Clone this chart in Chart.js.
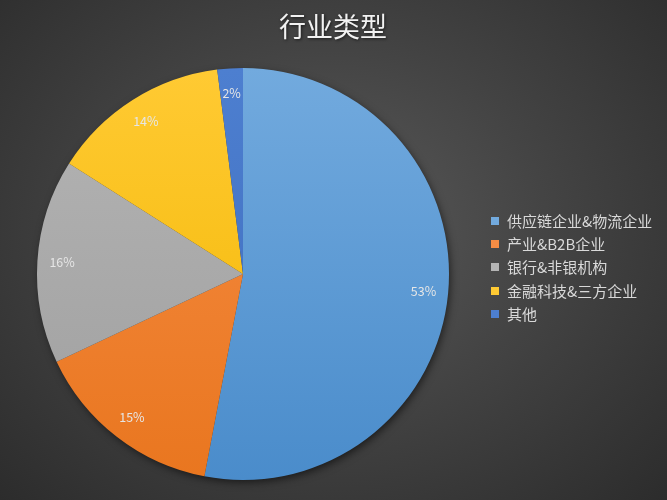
<!DOCTYPE html>
<html>
<head>
<meta charset="utf-8">
<script src="https://cdn.jsdelivr.net/npm/chart.js@4.4.1/dist/chart.umd.min.js"></script>
<style>
  html, body { margin: 0; padding: 0; }
  body { width: 667px; height: 500px; background: radial-gradient(ellipse at 50% 45%, #595959 0%, #444444 45%, #2c2c2c 100%); }
  #wrap { position: relative; width: 667px; height: 500px; }
</style>
</head>
<body>
<div id="wrap"><canvas id="c" width="667" height="500"></canvas></div>
<script>
const titleText = '行业类型';
const categories = ['供应链企业&物流企业', '产业&B2B企业', '银行&非银机构', '金融科技&三方企业', '其他'];
const values = [53, 15, 16, 14, 2];
const percentLabels = ['53%', '15%', '16%', '14%', '2%'];
const topColors = ['#72aade', '#f68d45', '#b4b4b4', '#ffca33', '#4d7fd0'];
const bottomColors = ['#4a8ccb', '#e9761f', '#9f9f9f', '#f2b600', '#3e6cbc'];

const cjk = '"Noto Sans CJK SC", "Noto Sans", sans-serif';

const shadowPlugin = {
  id: 'shadow',
  beforeDatasetsDraw(chart) {
    const ctx = chart.ctx;
    const arc = chart.getDatasetMeta(0).data[0];
    if (!arc) return;
    ctx.save();
    ctx.shadowColor = 'rgba(0,0,0,0.6)';
    ctx.shadowBlur = 9;
    ctx.shadowOffsetX = 2;
    ctx.shadowOffsetY = 3;
    ctx.fillStyle = '#3a3a3a';
    ctx.beginPath();
    ctx.arc(arc.x, arc.y, arc.outerRadius - 1, 0, Math.PI * 2);
    ctx.fill();
    ctx.restore();
  }
};

const decorPlugin = {
  id: 'decor',
  afterDraw(chart) {
    const ctx = chart.ctx;
    // title
    ctx.save();
    ctx.font = '400 27px ' + cjk;
    ctx.textAlign = 'center';
    ctx.textBaseline = 'middle';
    ctx.shadowColor = 'rgba(0,0,0,0.6)';
    ctx.shadowBlur = 3;
    ctx.shadowOffsetX = 1;
    ctx.shadowOffsetY = 1;
    ctx.fillStyle = '#f2f2f2';
    ctx.fillText(titleText, 333, 27);
    ctx.restore();

    // data labels
    const meta = chart.getDatasetMeta(0);
    ctx.save();
    ctx.font = '12.5px ' + cjk;
    ctx.fillStyle = '#e6e6e6';
    ctx.textAlign = 'center';
    ctx.textBaseline = 'middle';
    meta.data.forEach((arc, i) => {
      const mid = (arc.startAngle + arc.endAngle) / 2;
      const r = arc.outerRadius * 0.88;
      ctx.fillText(percentLabels[i], arc.x + Math.cos(mid) * r, arc.y + Math.sin(mid) * r);
    });
    ctx.restore();

    // legend
    ctx.save();
    ctx.font = '15px ' + cjk;
    ctx.textAlign = 'left';
    ctx.textBaseline = 'middle';
    const ys = [221, 244, 267, 291, 314];
    categories.forEach((c, i) => {
      ctx.fillStyle = topColors[i];
      ctx.fillRect(491, ys[i] - 4, 8, 8);
      ctx.fillStyle = '#d9d9d9';
      ctx.fillText(c, 507, ys[i]);
    });
    ctx.restore();
  }
};

new Chart(document.getElementById('c'), {
  type: 'pie',
  data: {
    labels: categories,
    datasets: [{
      data: values,
      backgroundColor: (context) => {
        const chart = context.chart;
        const area = chart.chartArea;
        const i = context.dataIndex;
        if (!area) return topColors[i];
        const g = chart.ctx.createLinearGradient(0, area.top, 0, area.bottom);
        g.addColorStop(0, topColors[i]);
        g.addColorStop(1, bottomColors[i]);
        return g;
      },
      borderWidth: 0
    }]
  },
  options: {
    responsive: false,
    animation: false,
    rotation: 0,
    layout: { padding: { top: 68, bottom: 20, left: 37, right: 218 } },
    plugins: {
      legend: { display: false },
      title: { display: false },
      tooltip: { enabled: false }
    }
  },
  plugins: [shadowPlugin, decorPlugin]
});
</script>
</body>
</html>
